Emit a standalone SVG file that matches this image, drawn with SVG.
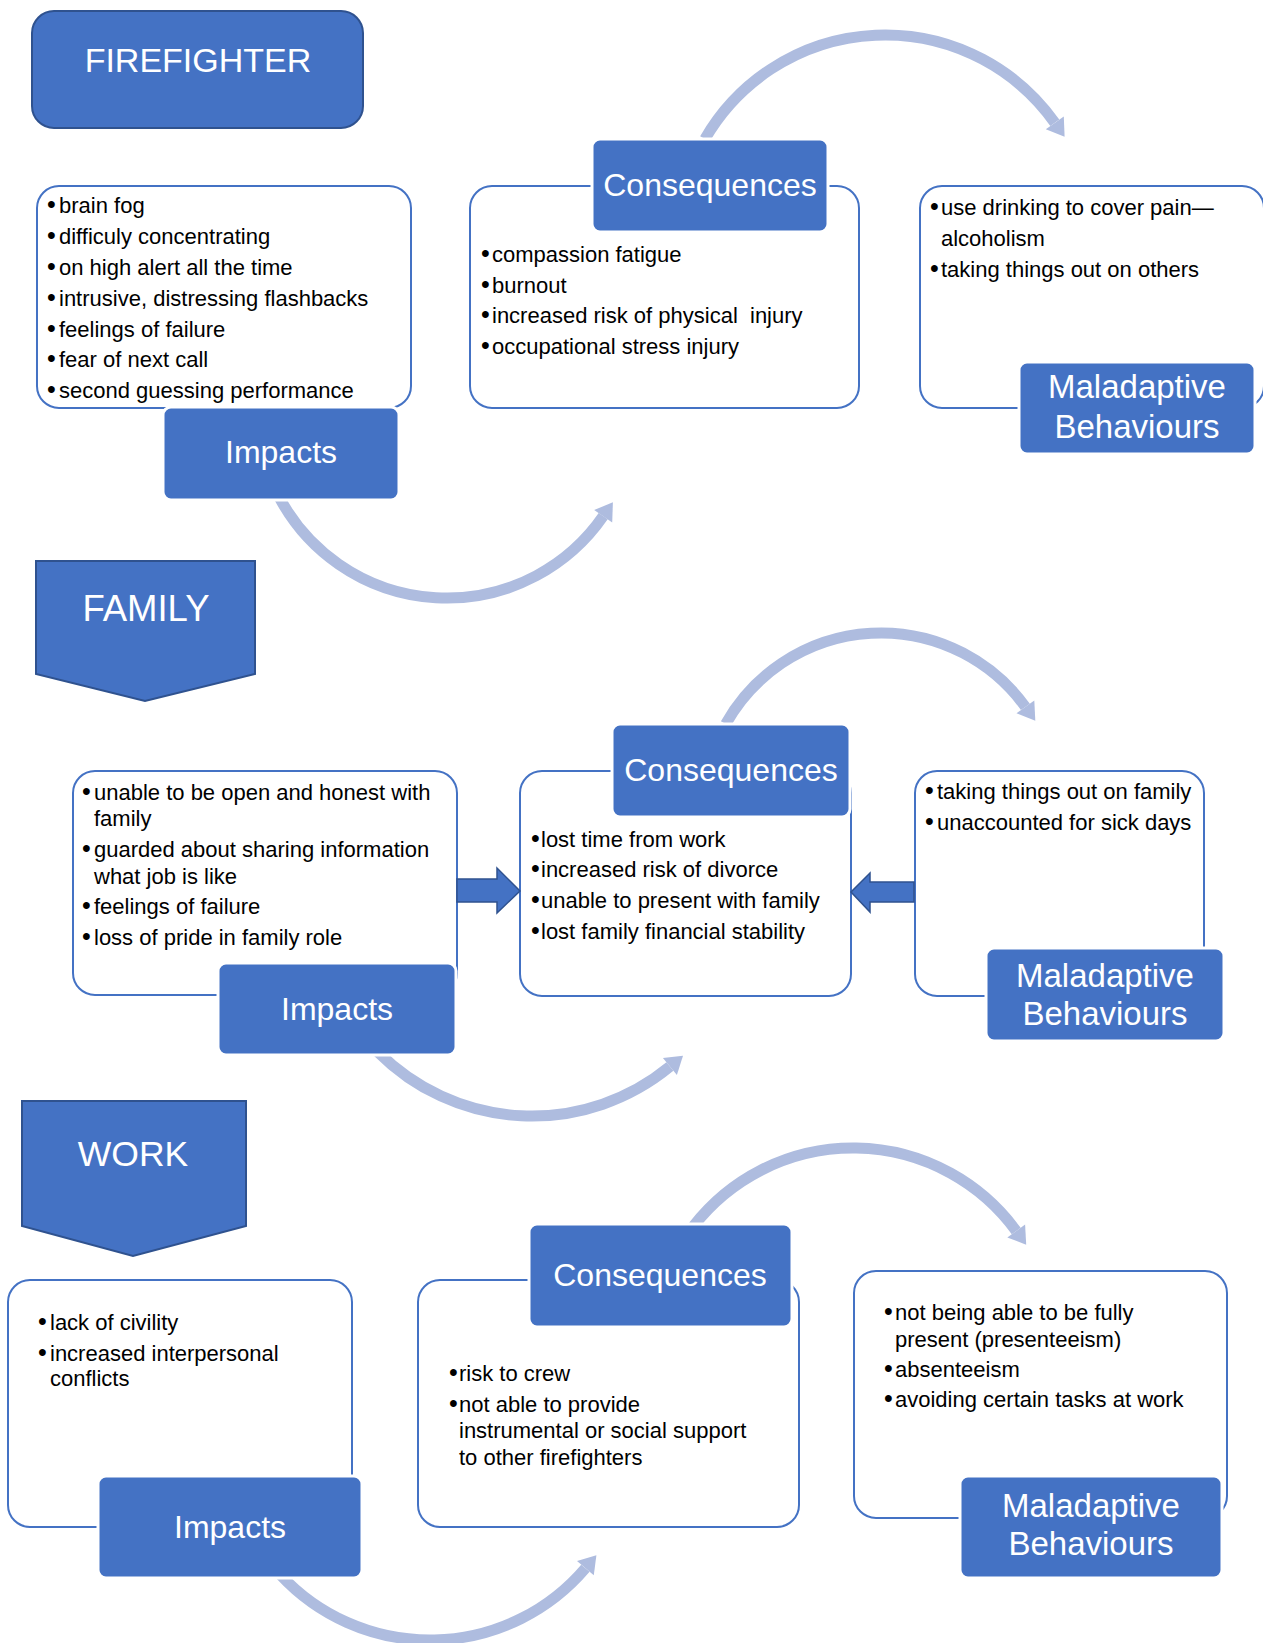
<svg xmlns="http://www.w3.org/2000/svg" width="1263" height="1643" viewBox="0 0 1263 1643">
<style>
.hdr{fill:#4472C4;stroke:#2F528F;stroke-width:2}
.hdrt{font-family:"Liberation Sans",Arial,sans-serif;fill:#fff;text-anchor:middle}
.box{fill:#fff;stroke:#4472C4;stroke-width:2}
.lab{fill:#4472C4;stroke:#fff;stroke-width:3}
.labt{font-family:"Liberation Sans",Arial,sans-serif;font-size:32px;fill:#fff;text-anchor:middle}
.mal{font-size:33px}
.li{font-family:"Liberation Sans",Arial,sans-serif;font-size:22px;fill:#000}
.b{font-size:25px}
.arc{fill:none;stroke:#AEBCDF;stroke-width:11}
.ah{fill:#AEBCDF}
.blk{fill:#4472C4;stroke:#2F528F;stroke-width:1.5}
</style>
<rect width="1263" height="1643" fill="#fff"/>

<!-- list boxes -->
<g id="ff-impacts-box"><rect class="box" x="37" y="186" width="374" height="222" rx="22"/>
<text class="li"><tspan class="b" x="47" y="213">•</tspan><tspan x="59" y="213">brain fog</tspan></text>
<text class="li"><tspan class="b" x="47" y="244">•</tspan><tspan x="59" y="244">difficuly concentrating</tspan></text>
<text class="li"><tspan class="b" x="47" y="275">•</tspan><tspan x="59" y="275">on high alert all the time</tspan></text>
<text class="li"><tspan class="b" x="47" y="305.5">•</tspan><tspan x="59" y="305.5">intrusive, distressing flashbacks</tspan></text>
<text class="li"><tspan class="b" x="47" y="336.5">•</tspan><tspan x="59" y="336.5">feelings of failure</tspan></text>
<text class="li"><tspan class="b" x="47" y="367">•</tspan><tspan x="59" y="367">fear of next call</tspan></text>
<text class="li"><tspan class="b" x="47" y="398">•</tspan><tspan x="59" y="398">second guessing performance</tspan></text>
</g>
<g id="ff-consequences-box"><rect class="box" x="470" y="186" width="389" height="222" rx="22"/>
<text class="li"><tspan class="b" x="481" y="262">•</tspan><tspan x="492" y="262">compassion fatigue</tspan></text>
<text class="li"><tspan class="b" x="481" y="293">•</tspan><tspan x="492" y="293">burnout</tspan></text>
<text class="li" xml:space="preserve"><tspan class="b" x="481" y="323">•</tspan><tspan x="492" y="323">increased risk of physical  injury</tspan></text>
<text class="li"><tspan class="b" x="481" y="354">•</tspan><tspan x="492" y="354">occupational stress injury</tspan></text>
</g>
<g id="ff-maladaptive-box"><rect class="box" x="920" y="186" width="344" height="222" rx="22"/>
<text class="li"><tspan class="b" x="930" y="215">•</tspan><tspan x="941" y="215">use drinking to cover pain—</tspan></text>
<text class="li" x="941" y="246">alcoholism</text>
<text class="li"><tspan class="b" x="930" y="277">•</tspan><tspan x="941" y="277">taking things out on others</tspan></text>
</g>

<g id="fam-impacts-box"><rect class="box" x="73" y="771" width="384" height="224" rx="22"/>
<text class="li"><tspan class="b" x="82" y="800">•</tspan><tspan x="94" y="800">unable to be open and honest with</tspan></text>
<text class="li" x="94" y="826">family</text>
<text class="li"><tspan class="b" x="82" y="857">•</tspan><tspan x="94" y="857">guarded about sharing information</tspan></text>
<text class="li" x="94" y="884">what job is like</text>
<text class="li"><tspan class="b" x="82" y="914">•</tspan><tspan x="94" y="914">feelings of failure</tspan></text>
<text class="li"><tspan class="b" x="82" y="945">•</tspan><tspan x="94" y="945">loss of pride in family role</tspan></text>
</g>
<g id="fam-consequences-box"><rect class="box" x="520" y="771" width="331" height="225" rx="22"/>
<text class="li"><tspan class="b" x="531" y="847">•</tspan><tspan x="541" y="847">lost time from work</tspan></text>
<text class="li"><tspan class="b" x="531" y="877">•</tspan><tspan x="541" y="877">increased risk of divorce</tspan></text>
<text class="li"><tspan class="b" x="531" y="908">•</tspan><tspan x="541" y="908">unable to present with family</tspan></text>
<text class="li"><tspan class="b" x="531" y="939">•</tspan><tspan x="541" y="939">lost family financial stability</tspan></text>
</g>
<g id="fam-maladaptive-box"><rect class="box" x="915" y="771" width="289" height="225" rx="22"/>
<text class="li"><tspan class="b" x="925" y="799">•</tspan><tspan x="937" y="799">taking things out on family</tspan></text>
<text class="li"><tspan class="b" x="925" y="830">•</tspan><tspan x="937" y="830">unaccounted for sick days</tspan></text>
</g>

<g id="work-impacts-box"><rect class="box" x="8" y="1280" width="344" height="247" rx="22"/>
<text class="li"><tspan class="b" x="38" y="1330">•</tspan><tspan x="50" y="1330">lack of civility</tspan></text>
<text class="li"><tspan class="b" x="38" y="1361">•</tspan><tspan x="50" y="1361">increased interpersonal</tspan></text>
<text class="li" x="50" y="1386">conflicts</text>
</g>
<g id="work-consequences-box"><rect class="box" x="418" y="1280" width="381" height="247" rx="22"/>
<text class="li"><tspan class="b" x="449" y="1381">•</tspan><tspan x="459" y="1381">risk to crew</tspan></text>
<text class="li"><tspan class="b" x="449" y="1412">•</tspan><tspan x="459" y="1412">not able to provide</tspan></text>
<text class="li" x="459" y="1438">instrumental or social support</text>
<text class="li" x="459" y="1465">to other firefighters</text>
</g>
<g id="work-maladaptive-box"><rect class="box" x="854" y="1271" width="373" height="247" rx="22"/>
<text class="li"><tspan class="b" x="884" y="1320">•</tspan><tspan x="895" y="1320">not being able to be fully</tspan></text>
<text class="li" x="895" y="1347">present (presenteeism)</text>
<text class="li"><tspan class="b" x="884" y="1377">•</tspan><tspan x="895" y="1377">absenteeism</tspan></text>
<text class="li"><tspan class="b" x="884" y="1407">•</tspan><tspan x="895" y="1407">avoiding certain tasks at work</tspan></text>
</g>

<!-- connectors -->
<g id="connectors">
<path class="arc" d="M704.9 139 A208 208 0 0 1 1054.8 122.8"/>
<polygon class="ah" points="1064.6,136.7 1063.8,116.4 1045.8,129.2"/>
<path class="arc" d="M279.2 497.2 A190 190 0 0 0 603.2 516.2"/>
<polygon class="ah" points="612.9,502.2 612.2,522.5 594.2,509.9"/>
<path class="arc" d="M725.7 724 A178 178 0 0 1 1025.4 706.9"/>
<polygon class="ah" points="1035.3,720.7 1034.3,700.5 1016.5,713.3"/>
<path class="arc" d="M378 1052 A217 217 0 0 0 669.9 1066.6"/>
<polygon class="ah" points="683,1055.8 676.9,1075.1 662.9,1058.1"/>
<path class="arc" d="M693.6 1226 A202 202 0 0 1 1016.2 1231"/>
<polygon class="ah" points="1026.2,1244.7 1025.1,1224.5 1007.3,1237.5"/>
<path class="arc" d="M280.6 1575 A204 204 0 0 0 585.4 1568.2"/>
<polygon class="ah" points="596.4,1555.2 593.8,1575.3 577,1561.1"/>
<polygon class="blk" points="457,879 497,879 497,868 520,891 497,913 497,902 457,902"/>
<polygon class="blk" points="914,882 870,882 870,873 851,892 870,912 870,902 914,902"/>
</g>

<!-- labels -->
<g id="ff-impacts-label"><rect class="lab" x="163" y="407" width="236" height="93" rx="8"/><text class="labt" x="281" y="463">Impacts</text></g>
<g id="ff-consequences-label"><rect class="lab" x="592" y="139" width="236" height="93" rx="8"/><text class="labt" x="710" y="196">Consequences</text></g>
<g id="ff-maladaptive-label"><rect class="lab" x="1019" y="362" width="236" height="92" rx="8"/><text class="labt mal" x="1137" y="398">Maladaptive</text><text class="labt mal" x="1137" y="438">Behaviours</text></g>

<g id="fam-impacts-label"><rect class="lab" x="218" y="963" width="238" height="92" rx="8"/><text class="labt" x="337" y="1020">Impacts</text></g>
<g id="fam-consequences-label"><rect class="lab" x="612" y="724" width="238" height="93" rx="8"/><text class="labt" x="731" y="781">Consequences</text></g>
<g id="fam-maladaptive-label"><rect class="lab" x="986" y="948" width="238" height="93" rx="8"/><text class="labt mal" x="1105" y="987">Maladaptive</text><text class="labt mal" x="1105" y="1025">Behaviours</text></g>

<g id="work-impacts-label"><rect class="lab" x="98" y="1476" width="264" height="102" rx="8"/><text class="labt" x="230" y="1538">Impacts</text></g>
<g id="work-consequences-label"><rect class="lab" x="529" y="1224" width="263" height="103" rx="8"/><text class="labt" x="660" y="1286">Consequences</text></g>
<g id="work-maladaptive-label"><rect class="lab" x="960" y="1476" width="262" height="102" rx="8"/><text class="labt mal" x="1091" y="1517">Maladaptive</text><text class="labt mal" x="1091" y="1555">Behaviours</text></g>

<!-- headers -->
<g id="firefighter"><rect class="hdr" x="32" y="11" width="331" height="117" rx="22"/><text class="hdrt" x="198" y="72" font-size="34">FIREFIGHTER</text></g>
<g id="family"><polygon class="hdr" points="36,561 255,561 255,674 145,701 36,674"/><text class="hdrt" x="146" y="621" font-size="36.5">FAMILY</text></g>
<g id="work"><polygon class="hdr" points="22,1101 246,1101 246,1226 133,1256 22,1226"/><text class="hdrt" x="133" y="1166" font-size="35.5">WORK</text></g>
</svg>
